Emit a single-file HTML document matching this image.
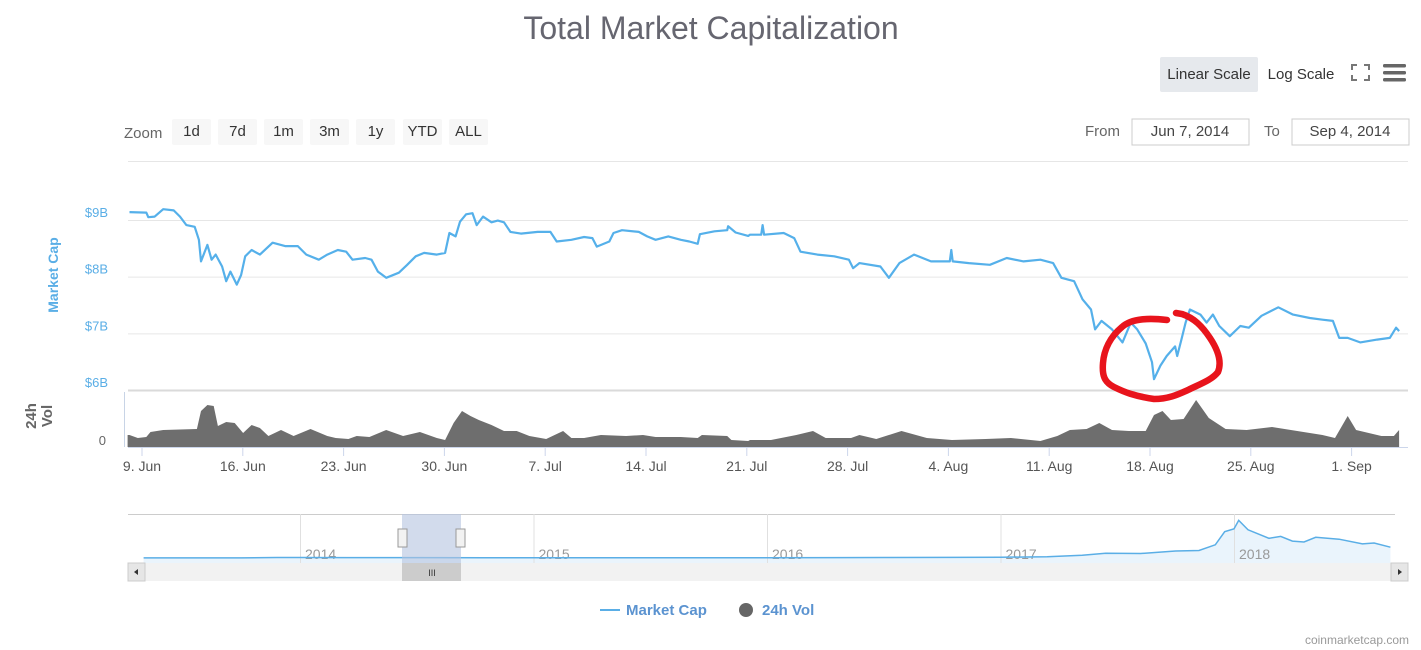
<!DOCTYPE html>
<html><head><meta charset="utf-8"><style>
html,body{margin:0;padding:0;background:#fff;}
svg{display:block;font-family:"Liberation Sans",sans-serif;}
</style></head><body>
<svg id="c" width="1421" height="650" viewBox="0 0 1421 650" xmlns="http://www.w3.org/2000/svg">
<text x="711" y="39" text-anchor="middle" font-size="32" fill="#666670">Total Market Capitalization</text>
<g>
<rect x="1160" y="57" width="98" height="35" rx="2" fill="#e6e9ed"/>
<text x="1209" y="79" text-anchor="middle" font-size="15" fill="#333">Linear Scale</text>
<text x="1301" y="79" text-anchor="middle" font-size="15" fill="#333">Log Scale</text>
</g>
<g stroke="#777" stroke-width="2" fill="none">
<path d="M1352 70v-5h5M1369 70v-5h-5M1352 75v5h5M1369 75v5h-5"/>
</g>
<g fill="#666">
<rect x="1383" y="64" width="23" height="3.5" rx="1.5"/><rect x="1383" y="71" width="23" height="3.5" rx="1.5"/><rect x="1383" y="78" width="23" height="3.5" rx="1.5"/>
</g>
<text x="124" y="138" font-size="15" fill="#666">Zoom</text>
<g id="zoomBtns"></g>
<text x="1085" y="136" font-size="15" fill="#666">From</text>
<rect x="1132" y="119" width="117" height="26" fill="#fff" stroke="#ccc"/>
<text x="1190" y="136" text-anchor="middle" font-size="15" fill="#444">Jun 7, 2014</text>
<text x="1264" y="136" font-size="15" fill="#666">To</text>
<rect x="1292" y="119" width="117" height="26" fill="#fff" stroke="#ccc"/>
<text x="1350" y="136" text-anchor="middle" font-size="15" fill="#444">Sep 4, 2014</text>
<line x1="128" y1="161.5" x2="1408" y2="161.5" stroke="#e6e6e6"/>
<g id="grid"></g>
<g id="yLabels"></g>
<text transform="translate(58,275) rotate(-90)" text-anchor="middle" font-size="14" font-weight="bold" fill="#5aaee6">Market Cap</text>
<text transform="translate(36,416) rotate(-90)" text-anchor="middle" font-size="15" font-weight="bold" fill="#666"><tspan x="0" dy="0">24h</tspan><tspan x="0" dy="16">Vol</tspan></text>
<text x="106" y="445" text-anchor="end" font-size="13" fill="#666">0</text>
<line x1="124.5" y1="392" x2="124.5" y2="447" stroke="#c8d4e6"/>
<g id="vol"></g>
<g id="cap"></g>
<line x1="128" y1="447.5" x2="1408" y2="447.5" stroke="#ccd6eb"/>
<g id="xLabels"></g>
<path d="M1167 320 C1150 318 1132 318 1122 327 C1110 337 1104 350 1103 363 C1102 375 1104 382 1114 387 C1124 392 1134 396 1154 399 C1169 399 1179 394 1188 390 C1200 384 1212 380 1218 372 C1222 362 1218 350 1210 338 C1202 326 1194 318 1182 314 L1176 313" fill="none" stroke="#e8141c" stroke-width="6.5" stroke-linecap="round"/>
<g>
<line x1="128" y1="514.5" x2="1395" y2="514.5" stroke="#ccc"/>
<path id="navArea" fill="#eaf4fc"/>
<g id="navGrid"></g>
<path id="navLine" fill="none" stroke="#5aaee6" stroke-width="1.5"/>
<rect x="402" y="514" width="59" height="49" fill="#b4c3e0" fill-opacity="0.6"/>
<rect x="398" y="529" width="9" height="18" fill="#f2f2f2" stroke="#999"/>
<rect x="456" y="529" width="9" height="18" fill="#f2f2f2" stroke="#999"/>
<rect x="128" y="563" width="1280" height="18" fill="#f2f2f2"/>
<rect x="402" y="563" width="59" height="18" fill="#ccc"/>
<text x="432" y="576" text-anchor="middle" font-size="9" fill="#333">III</text>
<rect x="128" y="563" width="17" height="18" fill="#e6e6e6" stroke="#ccc"/>
<path d="M138 569l-4 3 4 3z" fill="#333"/>
<rect x="1391" y="563" width="17" height="18" fill="#e6e6e6" stroke="#ccc"/>
<path d="M1398 569l4 3-4 3z" fill="#333"/>
</g>
<g>
<g>
<line x1="600" y1="610" x2="620" y2="610" stroke="#5aaee6" stroke-width="2"/>
<text x="626" y="615" font-size="15" font-weight="bold" fill="#5b93d0">Market Cap</text></g>
<g>
<circle cx="746" cy="610" r="7" fill="#666"/>
<text x="762" y="615" font-size="15" font-weight="bold" fill="#5b93d0">24h Vol</text></g>
</g>
<text x="1409" y="644" text-anchor="end" font-size="12" fill="#999">coinmarketcap.com</text>
</svg>
<script>
// Market cap ($B) vs days since 9 Jun 2014
const capDays = [-0.87,0.30,0.44,0.88,1.47,2.2,2.64,3.08,3.66,3.95,4.10,4.54,4.83,5.12,5.56,5.85,6.14,6.58,6.88,7.17,7.61,8.19,9.07,9.94,10.82,11.41,12.28,12.87,13.6,14.18,14.62,15.5,15.94,16.38,16.96,17.84,18.42,19.01,19.59,20.47,21.05,21.35,21.78,22.08,22.51,22.95,23.24,23.68,24.27,24.71,25.14,25.58,26.31,27.48,28.36,28.8,29.82,30.7,31.28,31.58,32.45,32.74,33.33,34.5,35.08,35.67,36.55,37.42,38.01,38.59,38.74,39.76,40.64,40.7,41.22,42.1,42.22,43.0,43.1,43.2,44.56,45.29,45.73,46.9,48.07,49.09,49.38,49.82,51.28,51.87,52.6,53.62,54.79,56.1,56.2,56.3,57.42,58.88,60.05,61.22,62.39,63.27,63.85,64.73,65.31,65.9,66.19,66.63,67.36,68.09,68.67,69.11,69.7,70.14,70.28,70.72,71.16,71.74,71.89,72.18,72.47,72.77,73.5,73.93,74.37,74.81,75.54,76.27,76.86,77.74,78.91,79.93,81.1,81.98,82.7,83.14,83.73,84.6,85.77,86.65,87.09,87.3];
const capValues = [9.14,9.13,9.05,9.06,9.19,9.17,9.06,8.91,8.88,8.65,8.27,8.56,8.30,8.39,8.18,7.92,8.09,7.86,8.03,8.36,8.47,8.39,8.60,8.54,8.54,8.39,8.30,8.39,8.47,8.44,8.30,8.33,8.30,8.09,7.98,8.07,8.21,8.36,8.42,8.39,8.42,8.77,8.71,8.97,9.10,9.12,8.91,9.06,8.96,8.99,8.96,8.79,8.76,8.79,8.79,8.62,8.65,8.70,8.68,8.53,8.62,8.77,8.82,8.79,8.71,8.65,8.71,8.65,8.62,8.58,8.75,8.80,8.82,8.89,8.78,8.72,8.74,8.74,8.91,8.74,8.77,8.68,8.44,8.39,8.36,8.30,8.15,8.24,8.18,7.98,8.24,8.39,8.27,8.27,8.47,8.27,8.24,8.21,8.33,8.27,8.30,8.24,7.98,7.92,7.60,7.42,7.07,7.22,7.07,6.84,7.19,7.07,6.82,6.49,6.19,6.43,6.60,6.77,6.60,6.89,7.19,7.42,7.33,7.19,7.33,7.13,6.95,7.13,7.10,7.31,7.46,7.33,7.27,7.24,7.22,6.92,6.92,6.84,6.89,6.92,7.10,7.04];
// 24h volume ($M)
const volDays = [-1.0,-0.87,-0.29,0.30,0.59,1.47,3.81,4.10,4.54,4.98,5.27,5.85,6.44,7.02,7.61,8.19,8.78,9.65,10.53,11.70,12.87,13.45,14.33,14.91,15.79,16.96,18.13,19.3,20.47,21.05,21.64,22.22,22.81,23.39,24.27,25.14,26.02,26.9,28.07,28.65,29.24,29.82,30.7,31.87,33.62,34.79,35.67,37.42,38.59,38.88,40.64,40.93,42.1,42.22,43.68,45.44,46.6,47.48,49.24,49.82,50.99,52.74,54.5,56.25,58.59,60.34,62.39,63.56,64.44,65.6,66.48,67.36,68.53,69.7,70.28,70.87,71.45,72.33,73.2,74.08,75.25,76.71,78.47,80.22,81.97,82.85,83.73,84.31,86.07,86.94,87.3];
const volValues = [12,12,9,10,15,17,18,36,42,41,21,25,24,14,22,19,11,17,11,18,11,9,8,11,10,17,11,15,9,7,24,36,31,27,22,16,16,11,8,12,16,9,9,12,11,12,10,10,9,12,11,7,6,7,7,12,16,9,9,12,8,16,9,7,8,9,6,11,17,18,24,17,16,16,32,36,27,28,47,29,18,17,20,16,12,9,31,17,11,11,17];
const xTickDays = [0,7,14,21,28,35,42,49,56,63,70,77,84];
const xTickLabels = ["9. Jun","16. Jun","23. Jun","30. Jun","7. Jul","14. Jul","21. Jul","28. Jul","4. Aug","11. Aug","18. Aug","25. Aug","1. Sep"];
const yTicks = [9,8,7,6];
const yTickLabels = ["$9B","$8B","$7B","$6B"];
// Navigator: total market cap ($B) by fractional year
const navYears = [2013.33,2013.5,2013.75,2013.9,2014.0,2014.2,2014.5,2014.8,2015.0,2015.3,2015.6,2015.9,2016.0,2016.3,2016.5,2016.8,2017.0,2017.2,2017.35,2017.45,2017.6,2017.75,2017.85,2017.92,2017.96,2018.0,2018.02,2018.06,2018.1,2018.15,2018.2,2018.25,2018.3,2018.35,2018.45,2018.55,2018.6,2018.67];
const navValues = [1.5,1.2,2,10,11,8,8,5,4,3.5,4,5,7,8,11,13,17,25,60,100,95,150,160,280,560,620,800,600,520,420,460,360,340,440,400,300,320,230];
const navYearLabels = [2014,2015,2016,2017,2018];

const NS="http://www.w3.org/2000/svg";
const xD = d => 142 + d*14.4;
const yCap = v => 390 - (v-6)*56.67;
const yVol = v => 447 - v;
const xNav = yr => 300 + (yr-2014)*233.5;
const yNav = v => 558 - v*39/830;
function mk(tag, attrs, parent){const e=document.createElementNS(NS,tag);for(const k in attrs)e.setAttribute(k,attrs[k]);parent.appendChild(e);return e;}

const grid=document.getElementById('grid'), yl=document.getElementById('yLabels');
yTicks.forEach((t,i)=>{
  const g=mk('line',{x1:128,x2:1408,y1:yCap(t)+0.5,y2:yCap(t)+0.5,stroke:i===3?'#dadada':'#e6e6e6','stroke-width':i===3?2:1},grid);
  
  
  const tx=mk('text',{x:108,y:yCap(t)-3,'text-anchor':'end','font-size':13,fill:'#5aaee6'},yl);
  tx.textContent=yTickLabels[i];
  
  
});

const xl=document.getElementById('xLabels');
xTickDays.forEach((d,i)=>{
  const tk=mk('line',{x1:xD(d),x2:xD(d),y1:447,y2:456,stroke:'#ccd6eb'},xl);
  
  
  const t=mk('text',{x:xD(d),y:471,'text-anchor':'middle','font-size':14,fill:'#555'},xl);
  t.textContent=xTickLabels[i];
  
  
});

let vp='M'+xD(volDays[0])+' 447';
volDays.forEach((d,i)=>{vp+=' L'+xD(d).toFixed(1)+' '+yVol(volValues[i]).toFixed(1);});
vp+=' L'+xD(volDays[volDays.length-1])+' 447 Z';
const va=mk('path',{d:vp,fill:'#6e6e6e'},document.getElementById('vol'));



let cp='';
capDays.forEach((d,i)=>{cp+=(i?' L':'M')+xD(d).toFixed(1)+' '+yCap(capValues[i]).toFixed(1);});
const cl=mk('path',{d:cp,fill:'none',stroke:'#55b0ea','stroke-width':2.2,'stroke-linejoin':'round'},document.getElementById('cap'));



const ng=document.getElementById('navGrid');
navYearLabels.forEach(y=>{
  const l=mk('line',{x1:xNav(y)+0.5,x2:xNav(y)+0.5,y1:514,y2:563,stroke:'#e0e0e0'},ng);
  
  
  const t=mk('text',{x:xNav(y)+5,y:559,'font-size':14,fill:'#999'},ng);
  t.textContent=String(y);
  
  
});
let np='';
navYears.forEach((y,i)=>{np+=(i?' L':'M')+xNav(y).toFixed(1)+' '+yNav(navValues[i]).toFixed(1);});
document.getElementById('navLine').setAttribute('d',np);
document.getElementById('navArea').setAttribute('d',np+' L'+xNav(navYears[navYears.length-1]).toFixed(1)+' 563 L'+xNav(navYears[0]).toFixed(1)+' 563 Z');

const zb=document.getElementById('zoomBtns');
const zLabels=["1d","7d","1m","3m","1y","YTD","ALL"];
const zX=[172,218,264,310,356,403,449];
zLabels.forEach((s,i)=>{
  const r=mk('rect',{x:zX[i],y:119,width:39,height:26,rx:2,fill:'#f7f7f7'},zb);
  
  
  const t=mk('text',{x:zX[i]+19.5,y:136,'text-anchor':'middle','font-size':15,fill:'#333'},zb);
  t.textContent=s;
  
  
});
</script>
</body></html>
